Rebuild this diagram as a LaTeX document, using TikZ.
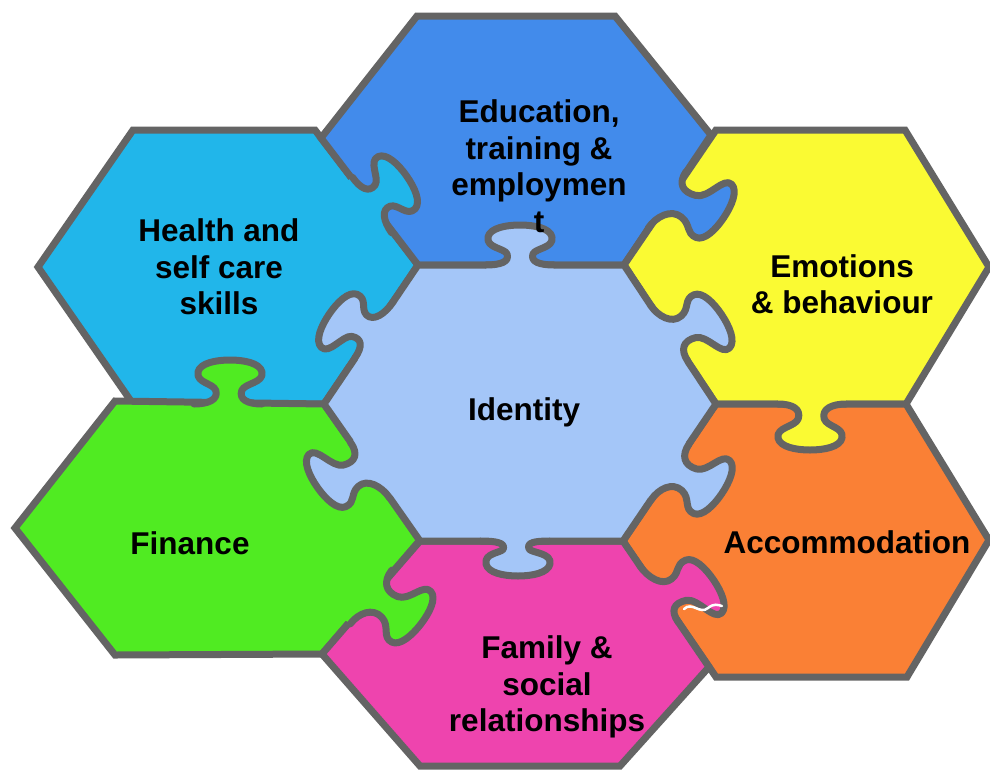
\documentclass[tikz,border=0pt]{standalone}
\usepackage{fontspec}
\setmainfont{Liberation Sans}
\definecolor{cEdu}{RGB}{66,139,235}
\definecolor{cId}{RGB}{164,198,248}
\definecolor{cHealth}{RGB}{33,182,234}
\definecolor{cEmo}{RGB}{250,250,51}
\definecolor{cAcc}{RGB}{250,128,53}
\definecolor{cFam}{RGB}{238,68,174}
\definecolor{cFin}{RGB}{80,235,34}
\definecolor{cLine}{RGB}{100,100,100}
% knob outline in local frame: u along edge, v into neighbour; #1 lean, #2 extra neck length
\newcommand{\knobpath}[2]{(-34,0) .. controls (-20,0) and ({-10+0.3*(#1)},{4+0.3*(#2)}) .. ({-13+0.4*(#1)},{13+0.6*(#2)}) .. controls ({-16+0.5*(#1)},{20+(#2)}) and ({-34+(#1)},{20+(#2)}) .. ({-32+(#1)},{31+(#2)}) .. controls ({-30+(#1)},{40+(#2)}) and ({-14+(#1)},{43+(#2)}) .. ({#1},{43+(#2)}) .. controls ({14+(#1)},{43+(#2)}) and ({30+(#1)},{40+(#2)}) .. ({32+(#1)},{31+(#2)}) .. controls ({34+(#1)},{20+(#2)}) and ({16+0.5*(#1)},{20+(#2)}) .. ({13+0.4*(#1)},{13+0.6*(#2)}) .. controls ({10+0.3*(#1)},{4+0.3*(#2)}) and (20,0) .. (34,0)}
% #1 colour, #2 base point, #3 rotation, #4 lean, #5 extension
\newcommand{\jigknob}[5]{%
  \begin{scope}[shift={#2}, rotate=#3]
    \fill[#1] \knobpath{#4}{#5} -- (34,-9) -- (-34,-9) -- cycle;
    \draw[knobline] \knobpath{#4}{#5};
  \end{scope}}
\begin{document}
\begin{tikzpicture}[x=1pt, y=1pt, yscale=-1,
  hexa/.style={draw=cLine, line width=7pt, line join=miter},
  knobline/.style={draw=cLine, line width=7pt, line cap=round, line join=round},
  lbl/.style={font=\bfseries\fontsize{31.5}{36.5}\selectfont, align=center, inner sep=0pt, text=black}]
\useasboundingbox (0,0) rectangle (990,769);
\fill[white] (0,0) rectangle (990,769);
% hexagons
\filldraw[hexa, fill=cHealth] (133,130) -- (315,130) -- (418,265) -- (324,404) -- (133,404) -- (38,267) -- cycle;
\filldraw[hexa, fill=cFin] (115,401) -- (324,404) -- (420,540) -- (322,654) -- (115,655) -- (15,528) -- cycle;
\filldraw[hexa, fill=cEdu] (417,16) -- (615,16) -- (711,135) -- (624,265) -- (418,265) -- (321,138) -- cycle;
\filldraw[hexa, fill=cEmo] (716,130) -- (905,130) -- (989,267) -- (906,404) -- (716,404) -- (624,265) -- cycle;
\filldraw[hexa, fill=cAcc] (716,404) -- (906,404) -- (989,540) -- (907,677) -- (716,677) -- (623,541) -- cycle;
\filldraw[hexa, fill=cFam] (420,541) -- (623,541) -- (709,667) -- (620,766) -- (420,766) -- (322,654) -- cycle;
\filldraw[hexa, fill=cId] (418,265) -- (624,265) -- (716,404) -- (623,541) -- (420,541) -- (324,404) -- cycle;
% puzzle knobs
\jigknob{cId}{(520,265)}{180}{0}{-3}
\jigknob{cHealth}{(372,205)}{-125.2}{4}{2}
\jigknob{cId}{(374,330)}{124.3}{12}{3}
\jigknob{cFin}{(228,404)}{180}{-2}{1}
\jigknob{cId}{(370,470)}{54.8}{-16}{10}
\jigknob{cFin}{(371,597)}{-52.3}{9}{13}
\jigknob{cId}{(515,541)}{0}{3}{-8}
\jigknob{cFam}{(659,594)}{-124.3}{-19}{10}
\jigknob{cId}{(670,472)}{-55.8}{11}{12}
\jigknob{cEmo}{(812,404)}{0}{-2}{3}
\jigknob{cId}{(669,333)}{-123.7}{-14}{11}
\jigknob{cEdu}{(667,200)}{-56.2}{17}{14}
% white squiggle on the family knob
\draw[white, line width=2.5pt, line cap=round] (684,609) .. controls (692,601) and (700,615) .. (708,608) .. controls (714,603) and (718,605) .. (722,606);
% labels
\node[lbl] (edu) at (539,166) {Education,\\training \&\\employmen\\t};
\node[lbl] (health) at (219,267) {Health and\\self care\\skills};
\node[lbl] (emo) at (842,284) {Emotions\\\& behaviour};
\node[lbl] (id) at (524,412) {Identity};
\node[lbl] (fin) at (190,543) {Finance};
\node[lbl] (acc) at (847,542) {Accommodation};
\node[lbl] (fam) at (547,687) {Family \&\\social\\relationships};
\end{tikzpicture}
\end{document}
